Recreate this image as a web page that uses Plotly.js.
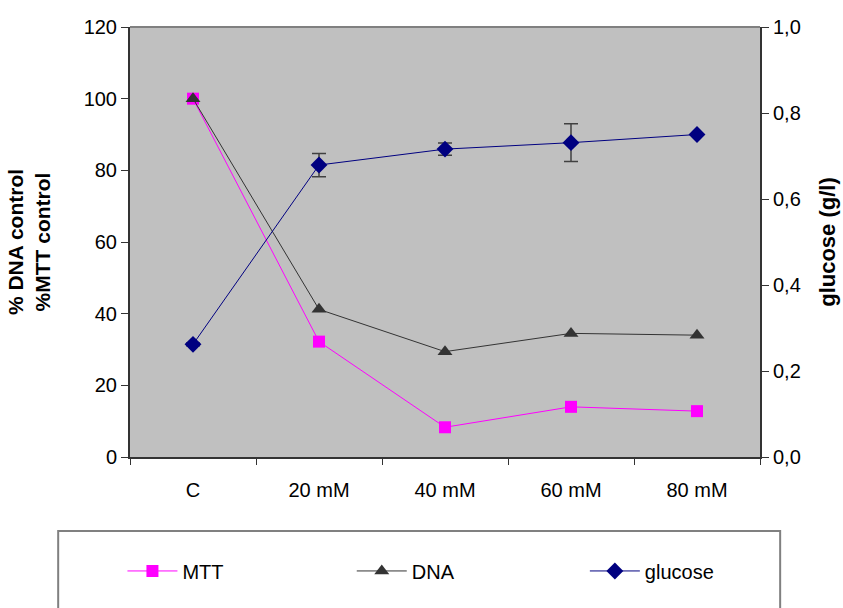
<!DOCTYPE html>
<html>
<head>
<meta charset="utf-8">
<script src="https://cdn.plot.ly/plotly-3.0.1.min.js"></script>
<style>html,body{margin:0;padding:0;background:#fff;}#chart{width:843px;height:608px;}</style>
</head>
<body>
<div id="chart"></div>
<script>
const categories = ["C", "20 mM", "40 mM", "60 mM", "80 mM"];
const mtt = [100, 32.2, 8.3, 14.0, 12.8];
const dna = [100, 41.2, 29.4, 34.5, 34.0];
const glucose = [0.262, 0.679, 0.716, 0.731, 0.750];
const glucoseErr = [0.003, 0.027, 0.014, 0.044, 0];
const leftTicks = [0, 20, 40, 60, 80, 100, 120];
const rightTicks = [0, 0.2, 0.4, 0.6, 0.8, 1.0];
const rightTickText = ["0,0", "0,2", "0,4", "0,6", "0,8", "1,0"];

const FONT = "Liberation Sans, Arial, sans-serif";

const traces = [
  {
    x: categories, y: mtt, name: "MTT", type: "scatter", mode: "lines+markers",
    legend: "legend",
    line: {color: "#FF00FF", width: 1},
    marker: {symbol: "square", size: 12, color: "#FF00FF"}
  },
  {
    x: categories, y: dna, name: "DNA", type: "scatter", mode: "lines+markers",
    legend: "legend2",
    line: {color: "#333333", width: 1},
    marker: {symbol: "triangle-up", size: 13, color: "#333333"}
  },
  {
    x: categories, y: glucose, name: "glucose", type: "scatter", mode: "lines+markers",
    legend: "legend3",
    yaxis: "y2",
    line: {color: "#000080", width: 1},
    marker: {symbol: "diamond", size: 13, color: "#000080"},
    error_y: {type: "data", array: glucoseErr, visible: true, color: "#404040", thickness: 1.5, width: 7}
  }
];

function leg(x) {
  return {
    orientation: "h", x: x, xanchor: "left", y: -0.265, yanchor: "middle",
    font: {family: FONT, size: 20, color: "#000"},
    itemwidth: 50,
    bgcolor: "rgba(0,0,0,0)", borderwidth: 0
  };
}

const layout = {
  width: 843, height: 608,
  margin: {l: 130, r: 83, t: 27, b: 151},
  paper_bgcolor: "#ffffff",
  plot_bgcolor: "#C0C0C0",
  font: {family: FONT, size: 20, color: "#000"},
  showlegend: true,
  legend: leg(-0.012),
  legend2: leg(0.352),
  legend3: leg(0.722),
  xaxis: {
    type: "category", range: [-0.5, 4.5], tickson: "boundaries", ticks: "outside", ticklen: 6, tickcolor: "#333",
    showline: true, linecolor: "#333", linewidth: 2, showgrid: false, zeroline: false,
    tickfont: {size: 20}, ticklabelstandoff: 14
  },
  yaxis: {
    range: [0, 120], tickvals: leftTicks, ticks: "outside", ticklen: 7, tickcolor: "#333",
    showline: true, linecolor: "#333", linewidth: 2, showgrid: false, zeroline: false,
    tickfont: {size: 20},
    title: {text: "<b>% DNA control</b><br><b>%MTT control</b>", font: {size: 21}, standoff: 27}
  },
  yaxis2: {
    range: [0, 1.0], overlaying: "y", side: "right", tickvals: rightTicks, ticktext: rightTickText,
    ticks: "outside", ticklen: 7, tickcolor: "#333",
    showline: true, linecolor: "#333", linewidth: 2, showgrid: false, zeroline: false,
    tickfont: {size: 20},
    title: {text: "<b>glucose (g/l)</b>", font: {size: 22}, standoff: 20}
  },
  shapes: [
    {type: "line", xref: "paper", yref: "paper", x0: 0, x1: 1, y0: 1, y1: 1, line: {color: "#808080", width: 2}},
    {type: "rect", xref: "paper", yref: "paper", x0: -0.114, x1: 1.032, y0: -0.172, y1: -0.40, line: {color: "#808080", width: 2}, fillcolor: "rgba(0,0,0,0)"}
  ]
};

Plotly.newPlot("chart", traces, layout, {displayModeBar: false, staticPlot: true});
</script>
</body>
</html>
